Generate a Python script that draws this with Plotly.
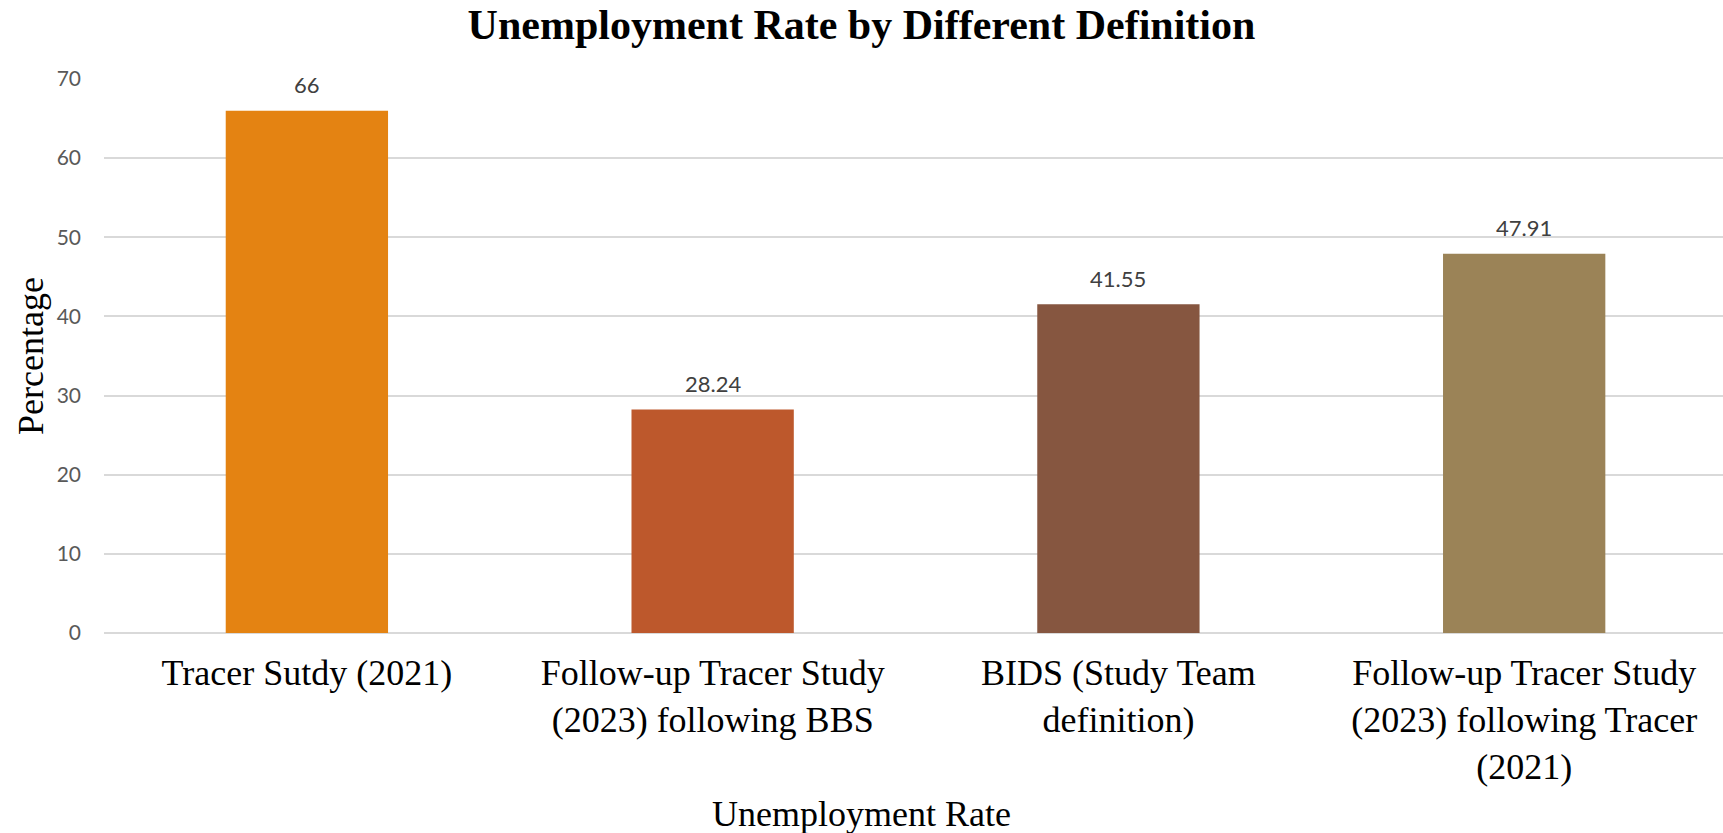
import plotly.graph_objects as go

# Unemployment rate (%) under each definition
categories = [
    "Tracer Sutdy (2021)",
    "Follow-up Tracer Study (2023) following BBS",
    "BIDS (Study Team definition)",
    "Follow-up Tracer Study (2023) following Tracer (2021)",
]
tick_labels = [
    "Tracer Sutdy (2021)",
    "Follow-up Tracer Study<br>(2023) following BBS",
    "BIDS (Study Team<br>definition)",
    "Follow-up Tracer Study<br>(2023) following Tracer<br>(2021)",
]
values = [66, 28.24, 41.55, 47.91]
value_labels = ["66", "28.24", "41.55", "47.91"]
bar_colors = ["#E48312", "#BD582C", "#865640", "#9B8357"]
y_ticks = [0, 10, 20, 30, 40, 50, 60, 70]

W, H = 1723, 833
M_L, M_R, M_T, M_B = 104, 0, 79, 200
plot_w = W - M_L - M_R
plot_h = H - M_T - M_B

serif = "Liberation Serif, Times New Roman, serif"
sans = "Lato, Carlito, Calibri, sans-serif"

fig = go.Figure(
    go.Bar(
        x=categories,
        y=values,
        marker=dict(color=bar_colors, line=dict(width=0)),
        hoverinfo="x+y",
    )
)

# value labels above each bar
for cat, val, lab in zip(categories, values, value_labels):
    fig.add_annotation(
        x=cat, y=val, xref="x", yref="y",
        text=lab, showarrow=False,
        yanchor="middle", yshift=26,
        font=dict(family=sans, size=22, color="#404040"),
    )

# axis titles
fig.add_annotation(
    text="Percentage", textangle=-90, showarrow=False,
    xref="paper", yref="paper",
    x=(31 - M_L) / plot_w, y=0.5, xanchor="center", yanchor="middle",
    font=dict(family=serif, size=36, color="#000000"),
)
fig.add_annotation(
    text="Unemployment Rate", showarrow=False,
    xref="paper", yref="paper",
    x=0.5, y=(633 - 814) / plot_h, xanchor="center", yanchor="middle",
    xshift=861.5 - (M_L + plot_w / 2),
    font=dict(family=serif, size=36, color="#000000"),
)

fig.update_layout(
    width=W, height=H,
    margin=dict(l=M_L, r=M_R, t=M_T, b=M_B, pad=0),
    paper_bgcolor="#FFFFFF",
    plot_bgcolor="#FFFFFF",
    showlegend=False,
    bargap=0.6,
    title=dict(
        text="<b>Unemployment Rate by Different Definition</b>",
        x=0.5, xref="container", xanchor="center",
        y=1 - 24 / H, yref="container", yanchor="middle",
        font=dict(family=serif, size=42, color="#000000"),
    ),
    xaxis=dict(
        type="category",
        range=[-0.5, 3.49],
        tickmode="array",
        tickvals=categories,
        ticktext=tick_labels,
        tickfont=dict(family=serif, size=36, color="#000000"),
        showgrid=False,
        showline=False,
        zeroline=False,
        ticks="",
        ticklabelstandoff=15,
    ),
    yaxis=dict(
        range=[0, 70],
        tickmode="array",
        tickvals=y_ticks,
        tickfont=dict(family=sans, size=21, color="#595959"),
        showgrid=True,
        gridcolor="#D9D9D9",
        gridwidth=1.5,
        zeroline=True,
        zerolinecolor="#D9D9D9",
        zerolinewidth=1.5,
        showline=False,
        ticks="",
        ticklabelstandoff=22,
    ),
)

fig.write_html("out.html")
